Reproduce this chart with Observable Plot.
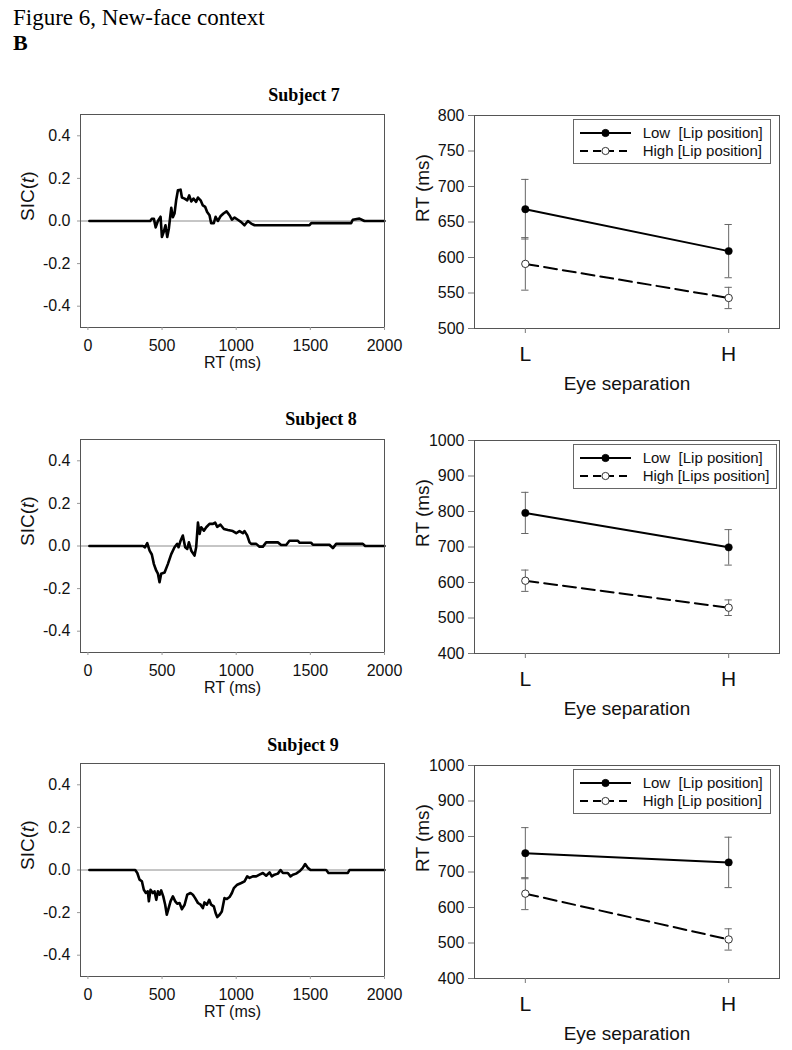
<!DOCTYPE html>
<html>
<head>
<meta charset="utf-8">
<script src="https://cdn.jsdelivr.net/npm/d3@7"></script>
<script src="https://cdn.jsdelivr.net/npm/@observablehq/plot@0.6"></script>
<style>
  body { margin: 0; background: #fff; }
  #page { position: relative; width: 792px; height: 1050px; overflow: hidden; background: #fff;
          font-family: "Liberation Sans", Arial, sans-serif; color: #111; }
  .abs { position: absolute; }
  .serif { font-family: "Liberation Serif", "Times New Roman", serif; color: #000; white-space: nowrap; }
  .subj { font-weight: bold; font-size: 18px; line-height: 18px; width: 200px; text-align: center; }
  .legend { position: absolute; border: 1px solid #666; background: #fff; padding: 4px 7px 3px 6px; }
  .legend .row { display: flex; align-items: center; height: 18px; }
  .legend .row span { font-size: 15px; white-space: pre; margin-left: 12px; line-height: 18px; }
  .legend svg { display: block; }
</style>
</head>
<body>
<div id="page"></div>
<script>
// ---------- data ----------
const figureTitle = "Figure 6, New-face context";
const panelLetter = "B";
const subjects = ["Subject 7", "Subject 8", "Subject 9"];

// SIC(t) curves: RT (ms) and SIC value
const rt7 = [10,420,430,445,457,472,490,499,512,523,535,546,555,562,573,584,595,607,625,634,652,670,683,697,712,730,742,760,775,791,804,820,831,849,861,876,894,914,935,955,971,989,1011,1034,1056,1079,1101,1124,1494,1506,1775,1786,1831,1865,2000];
const sic7 = [0,0,0.01,0.01,-0.03,0,0.02,-0.075,-0.05,-0.02,-0.075,-0.035,0.02,0.062,0.018,0.035,0.097,0.144,0.147,0.11,0.105,0.097,0.12,0.092,0.105,0.09,0.11,0.097,0.073,0.066,0.042,0.027,-0.01,-0.01,0.02,0,0.022,0.035,0.045,0.027,0.006,0.016,0.006,-0.005,-0.02,0,-0.012,-0.02,-0.02,-0.01,-0.01,0.006,0.011,0,0];

const rt8 = [10,371,385,400,416,431,445,461,472,483,494,517,539,562,584,602,611,625,640,656,670,681,697,719,730,742,753,764,782,798,820,843,858,872,894,917,944,977,1000,1022,1045,1056,1074,1090,1101,1135,1157,1180,1202,1281,1303,1337,1359,1416,1427,1506,1517,1629,1652,1674,1854,1870,2000];
const sic8 = [0,0,-0.006,0.013,-0.022,-0.04,-0.085,-0.116,-0.13,-0.17,-0.13,-0.124,-0.085,-0.038,-0.006,0.01,-0.006,0.025,0.049,-0.006,-0.014,0.017,-0.022,-0.045,-0.006,0.11,0.057,0.088,0.072,0.088,0.104,0.104,0.11,0.09,0.1,0.08,0.075,0.07,0.06,0.07,0.06,0.07,0.05,0.017,0.01,0.01,-0.003,-0.003,0.017,0.017,0.005,0.005,0.025,0.025,0.015,0.015,0.006,0.006,-0.01,0.01,0.01,0,0];

const rt9 = [10,319,333,348,364,377,391,404,411,422,438,449,461,472,483,494,508,521,532,544,557,573,589,602,618,634,652,670,692,708,723,742,760,775,786,802,818,831,849,861,872,888,903,921,937,955,971,984,1007,1034,1056,1074,1090,1112,1135,1157,1180,1202,1225,1240,1258,1281,1299,1315,1348,1366,1382,1404,1427,1449,1465,1483,1501,1607,1622,1753,1764,2000];
const sic9 = [0,0,-0.014,-0.045,-0.053,-0.093,-0.108,-0.1,-0.147,-0.093,-0.108,-0.1,-0.14,-0.1,-0.116,-0.096,-0.124,-0.163,-0.21,-0.18,-0.147,-0.124,-0.147,-0.158,-0.155,-0.184,-0.163,-0.116,-0.108,-0.116,-0.132,-0.155,-0.163,-0.179,-0.152,-0.163,-0.14,-0.163,-0.171,-0.202,-0.221,-0.21,-0.195,-0.132,-0.136,-0.127,-0.108,-0.085,-0.069,-0.061,-0.053,-0.03,-0.037,-0.03,-0.03,-0.022,-0.014,-0.027,-0.011,-0.03,-0.022,-0.017,0,-0.014,-0.014,-0.03,-0.022,-0.017,-0.006,0.01,0.028,0.01,0,0,-0.014,-0.014,0,0];

const sicXTicks = [0, 500, 1000, 1500, 2000];
const sicYTicks = [-0.4, -0.2, 0, 0.2, 0.4];

// Mean RT by eye separation (L, H) for low / high lip position, with error bars
const conds = ["L", "H"];
const low7 = [668, 609],  lowErr7 = [42, 37.5], high7 = [591, 543], highErr7 = [37, 15];
const low8 = [796, 699],  lowErr8 = [58, 50],   high8 = [605, 529], highErr8 = [30, 22];
const low9 = [753, 727],  lowErr9 = [72, 71],   high9 = [639, 510], highErr9 = [45, 30];
const rtTicks7 = [500, 550, 600, 650, 700, 750, 800];
const rtTicks89 = [400, 500, 600, 700, 800, 900, 1000];
const legend7 = ["Low  [Lip position]", "High [Lip position]"];
const legend8 = ["Low  [Lip position]", "High [Lips position]"];
const legend9 = ["Low  [Lip position]", "High [Lip position]"];

// ---------- layout ----------
const page = document.getElementById("page");
const FONT = "Liberation Sans, Arial, sans-serif";

function addDiv(cls, text, left, top, extra) {
  const d = document.createElement("div");
  d.className = "abs " + cls;
  d.textContent = text;
  d.style.left = left + "px";
  d.style.top = top + "px";
  if (extra) Object.assign(d.style, extra);
  page.appendChild(d);
  return d;
}

addDiv("serif", figureTitle, 13, 6, {fontSize: "23px", lineHeight: "23px"});
addDiv("serif", panelLetter, 13, 31.5, {fontSize: "22px", lineHeight: "22px", fontWeight: "bold"});

function sicPlot(rt, sic) {
  const data = rt.map((t, i) => ({t, v: sic[i]}));
  const p = Plot.plot({
    width: 400, height: 293,
    marginLeft: 80, marginRight: 16, marginTop: 20, marginBottom: 60,
    style: {fontFamily: FONT, fontSize: "16px", color: "#111", background: "transparent", overflow: "visible"},
    x: {domain: [-50, 2000]},
    y: {domain: [-0.5, 0.5]},
    marks: [
      Plot.ruleY([0], {stroke: "#8c8c8c", strokeWidth: 1}),
      Plot.line(data, {x: "t", y: "v", stroke: "#000", strokeWidth: 2.6, strokeLinejoin: "round"}),
      Plot.frame({stroke: "#555"}),
      Plot.axisX({ticks: sicXTicks, tickFormat: d => String(d), tickSize: 3, tickPadding: 9, stroke: "#999", label: null, fontSize: 16}),
      Plot.axisY({ticks: sicYTicks, tickFormat: d => d.toFixed(1), tickSize: 3, tickPadding: 7, stroke: "#999", label: null, fontSize: 16}),
      Plot.text(["RT (ms)"], {frameAnchor: "bottom", dy: 35, lineAnchor: "middle", fontSize: 16, fill: "#111"}),
      Plot.text(["SIC(t)"], {frameAnchor: "left", dx: -52.5, lineAnchor: "middle", rotate: -90, fontSize: 19, fill: "#111"})
    ]
  });
  // italic t in SIC(t)
  d3.select(p).selectAll("text").filter(function() { return this.textContent === "SIC(t)"; })
    .each(function() {
      const t = d3.select(this);
      t.text(null);
      t.append("tspan").text("SIC(");
      t.append("tspan").attr("font-style", "italic").text("t");
      t.append("tspan").text(")");
    });
  return p;
}

function rtPlot(low, lowErr, high, highErr, domain, ticks) {
  const rows = [];
  conds.forEach((c, i) => {
    rows.push({x: i + 1, m: low[i], e: lowErr[i], s: "Low"});
    rows.push({x: i + 1, m: high[i], e: highErr[i], s: "High"});
  });
  const lows = rows.filter(d => d.s === "Low");
  const highs = rows.filter(d => d.s === "High");
  const cap = 0.018;
  return Plot.plot({
    width: 392, height: 303,
    marginLeft: 74, marginRight: 13, marginTop: 15, marginBottom: 75,
    style: {fontFamily: FONT, fontSize: "16px", color: "#111", background: "transparent", overflow: "visible"},
    x: {domain: [0.75, 2.25]},
    y: {domain},
    marks: [
      Plot.frame({stroke: "#555"}),
      Plot.ruleX(rows, {x: "x", y1: d => d.m - d.e, y2: d => d.m + d.e, stroke: "#666", strokeWidth: 1}),
      Plot.ruleY(rows, {y: d => d.m - d.e, x1: d => d.x - cap, x2: d => d.x + cap, stroke: "#666", strokeWidth: 1}),
      Plot.ruleY(rows, {y: d => d.m + d.e, x1: d => d.x - cap, x2: d => d.x + cap, stroke: "#666", strokeWidth: 1}),
      Plot.line(lows, {x: "x", y: "m", stroke: "#000", strokeWidth: 2}),
      Plot.line(highs, {x: "x", y: "m", stroke: "#000", strokeWidth: 2, strokeDasharray: "13,6"}),
      Plot.dot(lows, {x: "x", y: "m", r: 3.7, fill: "#000", stroke: "#000", strokeWidth: 0.5}),
      Plot.dot(highs, {x: "x", y: "m", r: 3.7, fill: "#fff", stroke: "#333", strokeWidth: 1}),
      Plot.axisX({ticks: [1, 2], tickFormat: d => conds[d - 1], tickSize: 5, tickPadding: 13, stroke: "#777", label: null, fontSize: 21}),
      Plot.axisY({ticks, tickFormat: d => String(d), tickSize: 6, tickPadding: 4, stroke: "#777", label: null, fontSize: 16}),
      Plot.text(["Eye separation"], {frameAnchor: "bottom", dy: 55, lineAnchor: "middle", fontSize: 19, fill: "#111"}),
      Plot.text(["RT (ms)"], {frameAnchor: "left", dx: -51.5, lineAnchor: "middle", rotate: -90, fontSize: 19, fill: "#111"})
    ]
  });
}

function addLegend(labels, left, top) {
  const box = document.createElement("div");
  box.className = "legend";
  box.style.left = left + "px";
  box.style.top = top + "px";
  labels.forEach((lab, i) => {
    const row = document.createElement("div");
    row.className = "row";
    const dash = i === 1 ? ' stroke-dasharray="8,5"' : "";
    const fill = i === 1 ? "#fff" : "#000";
    const strokeC = i === 1 ? "#333" : "#000";
    row.innerHTML = `<svg width="51" height="18"><line x1="0" x2="51" y1="9" y2="9" stroke="#000" stroke-width="2"${dash}/>` +
      `<circle cx="25.5" cy="9" r="3.6" fill="${fill}" stroke="${strokeC}" stroke-width="1"/></svg>`;
    const sp = document.createElement("span");
    sp.textContent = lab;
    row.appendChild(sp);
    box.appendChild(row);
  });
  page.appendChild(box);
}

function place(node, left, top) {
  node.style.position = "absolute";
  node.style.left = left + "px";
  node.style.top = top + "px";
  page.appendChild(node);
}

const panels = [
  {rt: rt7, sic: sic7, low: low7, lowErr: lowErr7, high: high7, highErr: highErr7, dom: [500, 800], ticks: rtTicks7, legend: legend7,
   leftTop: 94, rightTop: 100, titleX: 304, titleTop: 85.5},
  {rt: rt8, sic: sic8, low: low8, lowErr: lowErr8, high: high8, highErr: highErr8, dom: [400, 1000], ticks: rtTicks89, legend: legend8,
   leftTop: 419.3, rightTop: 425, titleX: 321, titleTop: 410},
  {rt: rt9, sic: sic9, low: low9, lowErr: lowErr9, high: high9, highErr: highErr9, dom: [400, 1000], ticks: rtTicks89, legend: legend9,
   leftTop: 743.3, rightTop: 750, titleX: 303, titleTop: 735.6}
];

panels.forEach((p, i) => {
  place(sicPlot(p.rt, p.sic), 0, p.leftTop);
  place(rtPlot(p.low, p.lowErr, p.high, p.highErr, p.dom, p.ticks), 400, p.rightTop);
  addLegend(p.legend, 572.7, p.rightTop + 15 + 4.3);
  addDiv("serif subj", subjects[i], p.titleX - 100, p.titleTop);
});
</script>
</body>
</html>
